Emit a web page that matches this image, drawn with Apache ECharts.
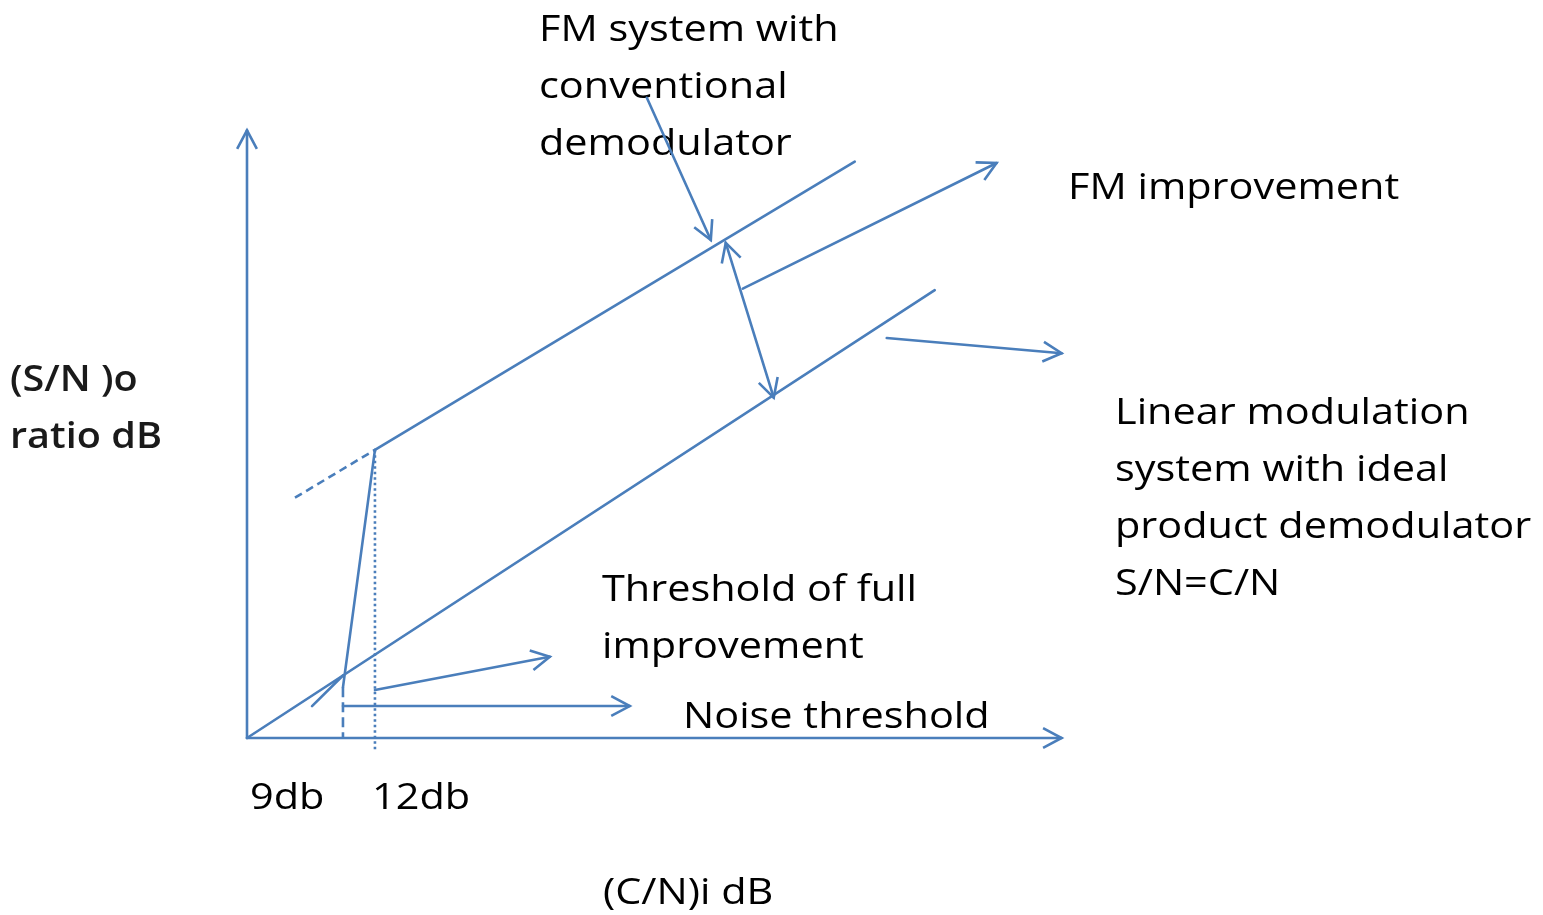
<!DOCTYPE html>
<html>
<head>
<meta charset="utf-8">
<script src="https://cdn.jsdelivr.net/npm/echarts@6/dist/echarts.min.js"></script>
<style>
  html, body { margin: 0; padding: 0; background: #ffffff; }
  #chart { width: 1543px; height: 915px; }
</style>
</head>
<body>
<div id="chart"></div>
<script>
// ---- Data (in dB units: x = (C/N)i dB, y = (S/N)o dB) ----
const axisY = [[0, 0], [0, 87.5]];
const axisX = [[0, 0], [76.4, 0]];
const linearLine = [[0, 0], [64.5, 64.5]];            // S/N = C/N
const fmLine = [[12, 41.5], [57, 83]];                 // FM with conventional demodulator
const fmExtension = [[4.5, 34.6], [12, 41.5]];         // dashed extrapolation
const thresholdRise = [[12, 41.5], [9, 7.3]];          // steep rise through threshold region
const drop9 = [[9, 7.3], [9, 0]];                      // dashed drop at 9 dB
const drop12 = [[12, 41.5], [12, -1.7]];               // dotted drop at 12 dB
const kinkMark = [[6.1, 4.6], [9, 9]];
const noiseArrow = [[9, 4.6], [35.9, 4.6]];
const fullImprovementArrow = [[12, 6.9], [28.4, 11.7]];
const fmSystemArrow = [[37.5, 92.2], [43.5, 71.7]];
const fmImprovementSpan = [[44.9, 71.3], [49.4, 49.0]];
const fmImprovementArrow = [[46.5, 64.7], [70.3, 82.8]];
const linearArrow = [[60.0, 57.6], [76.4, 55.4]];

// ---- Text ----
const tickLabels = ['9db', '12db'];
const xAxisTitle = '(C/N)i dB';
const yAxisTitle = ['(S/N )o', 'ratio dB'];
const fmSystemLabel = ['FM system with', 'conventional', 'demodulator'];
const fmImprovementLabel = ['FM improvement'];
const linearLabel = ['Linear modulation', 'system with ideal', 'product demodulator', 'S/N=C/N'];
const thresholdFullLabel = ['Threshold of full', 'improvement'];
const noiseThresholdLabel = ['Noise threshold'];

// ---- Styles (kept separate from data) ----
const BLUE = '#4A7EBB';
const segments = [
  { name: 'axisY', pts: axisY, end: true },
  { name: 'axisX', pts: axisX, end: true },
  { name: 'linear', pts: linearLine },
  { name: 'fm', pts: fmLine },
  { name: 'fmExt', pts: fmExtension, dash: [8, 5] },
  { name: 'rise', pts: thresholdRise },
  { name: 'drop9', pts: drop9, dash: [10, 5] },
  { name: 'drop12', pts: drop12, dash: [2.5, 3] },
  { name: 'kink', pts: kinkMark },
  { name: 'noiseArrow', pts: noiseArrow, end: true },
  { name: 'fullArrow', pts: fullImprovementArrow, end: true },
  { name: 'fmSysArrow', pts: fmSystemArrow, end: true },
  { name: 'fmSpan', pts: fmImprovementSpan, end: true, start: true },
  { name: 'fmImpArrow', pts: fmImprovementArrow, end: true },
  { name: 'linArrow', pts: linearArrow, end: true }
];

const ARM = 21, HALF = 28 * Math.PI / 180, LW = 2.6;

function arrowHead(tip, from) {
  const ang = Math.atan2(from[1] - tip[1], from[0] - tip[0]);
  const a1 = [tip[0] + ARM * Math.cos(ang + HALF), tip[1] + ARM * Math.sin(ang + HALF)];
  const a2 = [tip[0] + ARM * Math.cos(ang - HALF), tip[1] + ARM * Math.sin(ang - HALF)];
  return {
    type: 'polyline',
    shape: { points: [a1, tip, a2] },
    style: { stroke: BLUE, lineWidth: LW, fill: null, lineJoin: 'miter' }
  };
}

const series = segments.map(function (seg) {
  return {
    type: 'custom',
    name: seg.name,
    silent: true,
    clip: false,
    data: [[seg.pts[0][0], seg.pts[0][1], seg.pts[1][0], seg.pts[1][1]]],
    renderItem: function (params, api) {
      const p1 = api.coord([api.value(0), api.value(1)]);
      const p2 = api.coord([api.value(2), api.value(3)]);
      const children = [{
        type: 'line',
        shape: { x1: p1[0], y1: p1[1], x2: p2[0], y2: p2[1] },
        style: { stroke: BLUE, lineWidth: LW, lineDash: seg.dash || null, lineCap: seg.dash ? 'butt' : 'round' }
      }];
      if (seg.end) children.push(arrowHead(p2, p1));
      if (seg.start) children.push(arrowHead(p1, p2));
      return { type: 'group', children: children };
    }
  };
});

// ---- Text layout ----
const FONT = '"Open Sans", "Noto Sans", sans-serif';
const FS = 37, LH = 57, SX = 1.12;
function textBlock(lines, x, baseline, opts) {
  opts = opts || {};
  const fs = opts.fs || FS;
  return lines.map(function (t, i) {
    return {
      type: 'text',
      x: x,
      y: baseline + i * LH - Math.round(fs * 0.92) + 6,
      scaleX: opts.sx || SX,
      silent: true,
      style: {
        text: t,
        font: (opts.weight || 'normal') + ' ' + fs + 'px ' + FONT,
        fill: opts.color || '#000000',
        textVerticalAlign: 'top'
      }
    };
  });
}

const graphics = [].concat(
  textBlock(fmSystemLabel, 539, 40),
  textBlock(fmImprovementLabel, 1068, 198),
  textBlock(linearLabel, 1115, 423),
  textBlock(thresholdFullLabel, 602, 600),
  textBlock(noiseThresholdLabel, 683, 727),
  textBlock([tickLabels[0]], 250, 808),
  textBlock([tickLabels[1]], 372, 808),
  textBlock([xAxisTitle], 603, 903),
  textBlock(yAxisTitle, 10, 390, { weight: '600', color: '#1a1a1a', fs: 36, sx: 1.1 })
);

const chart = echarts.init(document.getElementById('chart'), null, { renderer: 'canvas' });
chart.setOption({
  animation: false,
  backgroundColor: '#ffffff',
  grid: { left: 247, right: 443, top: 43.56, bottom: 177 },
  xAxis: { type: 'value', min: 0, max: 80, show: false },
  yAxis: { type: 'value', min: 0, max: 100, show: false },
  series: series,
  graphic: graphics
});
</script>
</body>
</html>
